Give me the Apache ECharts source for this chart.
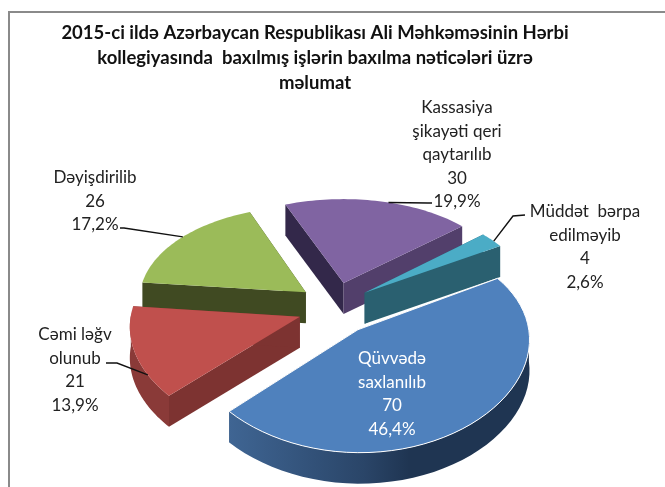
<!DOCTYPE html>
<html><head><meta charset="utf-8">
<style>html,body{margin:0;padding:0;background:#fff}#c{width:665px;height:487px}</style>
<script src="https://cdn.jsdelivr.net/npm/echarts@6/dist/echarts.min.js"></script>
</head><body><div id="c"></div>
<script>
var titleLines = ["2015-ci ildə Azərbaycan Respublikası Ali Məhkəməsinin Hərbi","kollegiyasında  baxılmış işlərin baxılma nəticələri üzrə","məlumat"];
var categories = ["Qüvvədə\nsaxlanılıb","Cəmi ləğv\nolunub","Dəyişdirilib","Kassasiya\nşikayəti qeri\nqaytarılıb","Müddət  bərpa\nedilməyib"];
var values = [70,21,26,30,4];
var percents = ["46,4%","13,9%","17,2%","19,9%","2,6%"];

var topColors = ["#4F81BD","#C0504D","#9BBB59","#8064A2","#4BACC6"];
var arcWall = [null,"#8A3A38","#404A22","#523F6B","#2A6070"];
var startWall = ["#2F4D75","#7D3331","#404A22","#33284A","#2A6070"];
var endWall = ["#2F4D75","#7D3331","#404A22","#523F6B","#2A6070"];
var drawOrder = [5,4,2,1,3];
var labelPos = [[392,347,"#fff"],[75,323,"#222"],[95,166,"#222"],[457,96,"#222"],[585,200,"#222"]];
var leaderBase = [null,[[106,363],[117,363]],[[120,228],[124,228]],[[432,203],[428,203]],[[525,215],[513,216]]];
var leaderFrac = [0,0.25,0.52,0.55,0.6];

var C = {x:335,y:308}, R = 168, K = 0.60, P = 0.13, PX = 0.08, H = 31, EXPL = 37, EXPLY = 1.2, START = -31;
var total = values.reduce(function(a,b){return a+b;},0);
var angles = [], acc = START;
values.forEach(function(v){var s=acc; acc+=v/total*360; angles.push([s,acc]);});
function proj(x,y){var f=1/(1-P*y/R),fx=1/(1-PX*y/R);return [C.x+x*fx,C.y+K*y*f];}
function rad(d){return d*Math.PI/180;}

function renderItem(params){
  var i=params.dataIndex,a=angles[i][0],b=angles[i][1],m=(a+b)/2;
  var ox=EXPL*Math.cos(rad(m)),oy=EXPLY*EXPL*Math.sin(rad(m));
  var apex=proj(ox,oy);
  var pt=function(t){return proj(ox+R*Math.cos(rad(t)),oy+R*Math.sin(rad(t)));};
  var down=function(p){return [p[0],p[1]+H];};
  var arc=[];
  for(var t=a;t<=b+0.001;t+=(b-a)/48)arc.push(pt(t));
  var z=drawOrder[i]*10;
  var kids=[];
  function poly(points,fill,zz){kids.push({type:'polygon',z2:zz,shape:{points:points},style:{fill:fill}});}
  poly([apex,pt(a),down(pt(a)),down(apex)],startWall[i],z);
  poly([apex,pt(b),down(pt(b)),down(apex)],endWall[i],z+1);
  var front=arc.filter(function(p,j){var t=a+(b-a)*j/48;return Math.sin(rad(t))>=-0.02;});
  if(front.length>1){
    var fill=arcWall[i]||new echarts.graphic.LinearGradient(0,0,1,0,[
      {offset:0,color:'#3F6593'},{offset:0.45,color:'#2A4568'},{offset:0.6,color:'#1F3552'},{offset:1,color:'#1F3552'}]);
    poly(front.concat(front.slice().reverse().map(down)),fill,z+2);
  }
  kids.push({type:'polygon',z2:z+3,shape:{points:[apex].concat(arc)},
    style:{fill:topColors[i],stroke:i===0?'#fff':null,lineWidth:i===0?1:0}});
  var lp=labelPos[i];
  kids.push({type:'text',z2:100,style:{x:lp[0],y:lp[1],text:categories[i]+"\n"+values[i]+"\n"+percents[i],
    fill:lp[2],font:'17px Lato',lineHeight:23.5,align:'center',verticalAlign:'top'}});
  if(leaderBase[i]){
    var anchor=pt(a+(b-a)*leaderFrac[i]);
    kids.push({type:'polyline',z2:90,shape:{points:leaderBase[i].concat([anchor])},
      style:{stroke:'#111',lineWidth:1.4,fill:null}});
  }
  return {type:'group',children:kids};
}

var chart=echarts.init(document.getElementById('c'),null,{renderer:'canvas'});
chart.setOption({
  animation:false,backgroundColor:'#fff',
  graphic:{elements:[
    {type:'polyline',shape:{points:[[9,487],[9,12],[665,12]]},style:{stroke:'#8a8a8a',lineWidth:2,fill:null},z:1},
    {type:'text',z:5,style:{x:315,y:21,text:titleLines.join("\n"),fill:'#111',font:'bold 18.5px Lato',lineHeight:25,align:'center',verticalAlign:'top'}}
  ]},
  series:[{type:'custom',coordinateSystem:'none',clip:false,silent:true,
    data:values.map(function(v,i){return {name:categories[i],value:[v]};}),
    renderItem:renderItem}]
});
</script></body></html>
